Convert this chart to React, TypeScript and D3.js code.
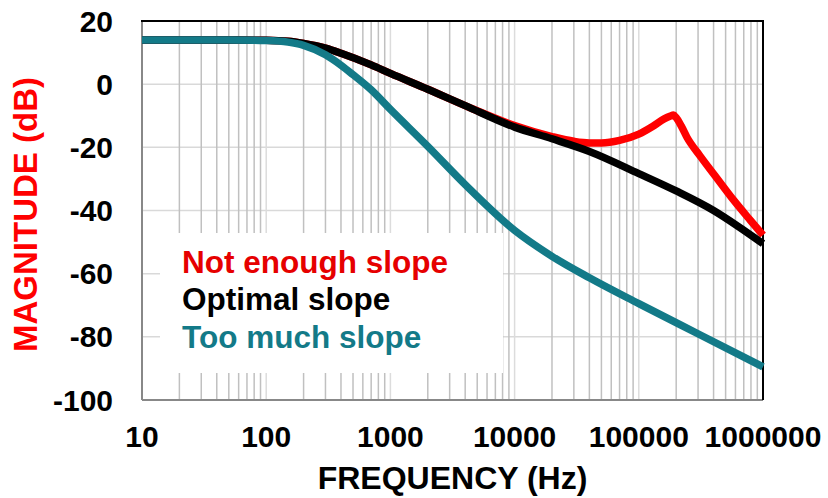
import React from "react";
import * as d3 from "d3";

const optFreqs = [10, 50, 100, 150, 200, 300, 400, 700, 1000, 2000, 4000, 10000, 20000, 40000, 100000, 200000, 400000, 630000, 1000000];
const optimal = [14, 14, 13.9, 13.6, 12.9, 11.4, 9.8, 6.1, 3.4, -1.6, -6.8, -13.6, -17.3, -21.3, -28.3, -33.8, -40, -45, -50.5];

const redFreqs = [10, 50, 100, 150, 200, 300, 400, 700, 1000, 2000, 4000, 10000, 20000, 30000, 40000, 50000, 70000, 100000, 130000, 160000, 180000, 190000, 200000, 220000, 244000, 311000, 411000, 574000, 787000, 1000000];
const notEnough = [14, 14, 13.9, 13.6, 12.9, 11.4, 9.8, 6.1, 3.4, -1.6, -6.8, -13.1, -16.6, -18.1, -18.6, -18.6, -17.8, -15.8, -13.3, -11, -10.1, -9.8, -10.6, -13.3, -16.8, -22.7, -29, -36.5, -43, -47.8];

const tealFreqs = [10, 50, 100, 150, 200, 300, 400, 500, 700, 1000, 2000, 4000, 10000, 20000, 40000, 100000, 316000, 1000000];
const tooMuch = [14, 14, 13.8, 13.3, 12.3, 9.3, 6, 3, -1.8, -8, -19.7, -31.8, -46.3, -54.5, -61.3, -69.5, -79.5, -89.5];

const seriesNames = ["Not enough slope", "Optimal slope", "Too much slope"];
const seriesColors = ["#FF0000", "#000000", "#137A88"];
const legendColors = ["#E60000", "#000000", "#137A88"];
const yTicks = [20, 0, -20, -40, -60, -80, -100];
const xTicks = [10, 100, 1000, 10000, 100000, 1000000];

const W = 828, H = 498;
const L = 142, R = 763, T = 21, B = 400;
const FONT = "'Liberation Sans', Arial, sans-serif";

export default function App() {
  const x = d3.scaleLog().domain([10, 1000000]).range([L, R]);
  const y = d3.scaleLinear().domain([-100, 20]).range([B, T]);
  const mk = (fs: number[], vs: number[]) =>
    d3.line<number>().x((_, i) => x(fs[i])).y((d) => y(d)).curve(d3.curveMonotoneX)(vs) || "";
  const minor: number[] = [];
  const major: number[] = [];
  for (let dec = 10; dec < 1000000; dec *= 10) {
    for (let m = 2; m <= 9; m++) minor.push(dec * m);
  }
  xTicks.forEach((t) => { if (t > 10 && t < 1000000) major.push(t); });
  const paths = [mk(redFreqs, notEnough), mk(optFreqs, optimal), mk(tealFreqs, tooMuch)];
  return (
    <svg width={W} height={H} style={{ position: "absolute", left: 0, top: 0, background: "#fff" }} fontFamily={FONT} fontWeight="bold">
      <rect x={0} y={0} width={W} height={H} fill="#fff" />
      {yTicks.filter((t) => t > -100 && t < 20).map((t) => (
        <line key={"h" + t} x1={L} x2={R} y1={y(t)} y2={y(t)} stroke="#d9d9d9" strokeWidth={1.5} />
      ))}
      {minor.map((f) => (
        <line key={"m" + f} x1={x(f)} x2={x(f)} y1={T} y2={B} stroke="#c0c0c0" strokeWidth={1.5} />
      ))}
      {major.map((f) => (
        <line key={"M" + f} x1={x(f)} x2={x(f)} y1={T} y2={B} stroke="#dcdcdc" strokeWidth={1.5} />
      ))}
      <rect x={160} y={233} width={343} height={140} fill="#fff" />
      <line x1={L} x2={L} y1={T} y2={B} stroke="#888" strokeWidth={2} />
      <line x1={L} x2={R} y1={B} y2={B} stroke="#888" strokeWidth={2} />
      <line x1={L - 1} x2={R + 1} y1={T} y2={T} stroke="#000" strokeWidth={2} />
      <line x1={R} x2={R} y1={T} y2={B} stroke="#000" strokeWidth={2} />
      {paths.map((p, i) => (
        <path key={"s" + i} d={p} fill="none" stroke={seriesColors[i]} strokeWidth={7.5} strokeLinejoin="round" strokeLinecap="butt" />
      ))}
      {yTicks.map((t) => (
        <text key={"yt" + t} x={113} y={y(t) + 10.5} textAnchor="end" fontSize={30} fill="#000">{t}</text>
      ))}
      {xTicks.map((t) => (
        <text key={"xt" + t} x={x(t)} y={447} textAnchor="middle" fontSize={30} fill="#000">{t}</text>
      ))}
      <text x={(L + R) / 2} y={489} textAnchor="middle" fontSize={32} fill="#000">FREQUENCY (Hz)</text>
      <text transform={`translate(37,${(T + B) / 2 + 4}) rotate(-90)`} textAnchor="middle" fontSize={33} fill="#FF0000">MAGNITUDE (dB)</text>
      {seriesNames.map((n, i) => (
        <text key={"lg" + i} x={182} y={273 + i * 37.3} fontSize={31.5} fill={legendColors[i]}>{n}</text>
      ))}
    </svg>
  );
}
